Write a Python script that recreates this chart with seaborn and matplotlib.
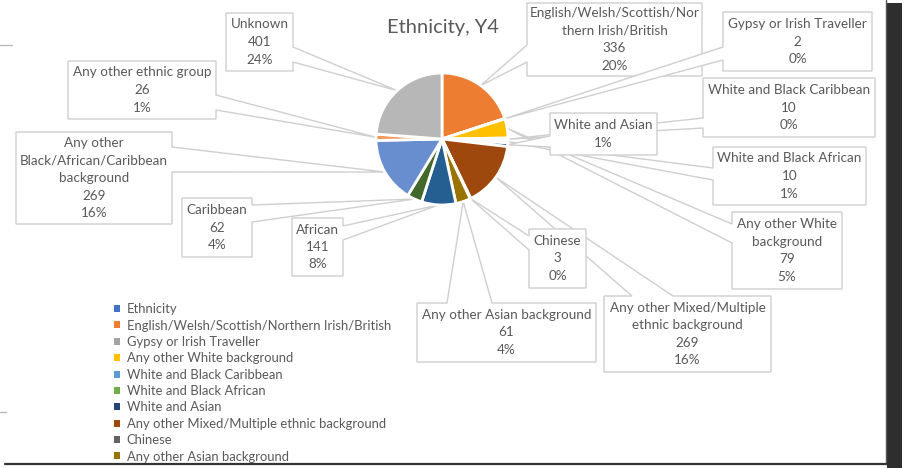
import matplotlib
matplotlib.use("Agg")
import numpy as np
import matplotlib.pyplot as plt
import seaborn as sns
from matplotlib.patches import Polygon, Patch, Rectangle
from matplotlib.lines import Line2D

# ---- data -------------------------------------------------------------
categories = [
    "English/Welsh/Scottish/Northern Irish/British",
    "Gypsy or Irish Traveller",
    "Any other White background",
    "White and Black Caribbean",
    "White and Black African",
    "White and Asian",
    "Any other Mixed/Multiple ethnic background",
    "Chinese",
    "Any other Asian background",
    "African",
    "Caribbean",
    "Any other Black/African/Caribbean background",
    "Any other ethnic group",
    "Unknown",
]
counts = [336, 2, 79, 10, 10, 15, 269, 3, 61, 141, 62, 269, 26, 401]
pct_labels = ["20%", "0%", "5%", "0%", "1%", "1%", "16%", "0%", "4%", "8%", "4%", "16%", "1%", "24%"]
# text shown in each callout (category name as wrapped on the chart)
callout_names = [
    "English/Welsh/Scottish/Nor\nthern Irish/British",
    "Gypsy or Irish Traveller",
    "Any other White\nbackground",
    "White and Black Caribbean",
    "White and Black African",
    "White and Asian",
    "Any other Mixed/Multiple\nethnic background",
    "Chinese",
    "Any other Asian background",
    "African",
    "Caribbean",
    "Any other\nBlack/African/Caribbean\nbackground",
    "Any other ethnic group",
    "Unknown",
]
show_value = [True, True, True, True, True, False, True, True, True, True, True, True, True, True]
series_name = "Ethnicity"
title = "Ethnicity, Y4"

colors = ["#ED7D31", "#A5A5A5", "#FFC000", "#5B9BD5", "#70AD47", "#264478",
          "#9E480E", "#636363", "#997300", "#255E91", "#43682B", "#698ED0",
          "#F1975A", "#B7B7B7"]
series_color = "#4472C4"

# ---- layout (pixel space, origin top-left) ----------------------------
W, H = 907, 468
CX, CY, R = 442, 139, 66

# callout boxes: (x0, y0, x1, y1), side the pointer leaves from, pointer base span
boxes = [
    ((527, 3, 702, 76), "left", (45, 62)),
    ((723, 12, 872, 71), "left", (47, 60)),
    ((732, 212, 842, 289), "left", (224, 243)),
    ((703, 78, 875, 137), "left", (118, 128)),
    ((713, 147, 866, 205), "left", (168, 180)),
    ((550, 113, 657, 155), "left", (136, 147)),
    ((604, 296, 771, 372), "top", (632, 673)),
    ((529, 229, 586, 288), "left", (236, 250)),
    ((417, 303, 596, 362), "top", (447, 492)),
    ((292, 218, 343, 276), "right", (226, 240)),
    ((182, 198, 252, 257), "right", (205, 222)),
    ((16, 132, 172, 224), "right", (147, 172)),
    ((68, 61, 216, 119), "right", (95, 110)),
    ((226, 13, 293, 71), "right", (47, 62)),
]

FONT = ["Lato", "DejaVu Sans"]
TXT = "#595959"
LINE = "#CFCFCF"

sns.set_theme(style="white")
plt.rcParams["font.family"] = FONT

fig = plt.figure(figsize=(W / 100, H / 100), dpi=100)
ax = fig.add_axes([0, 0, 1, 1])


def fy(y):
    return H - y


wedges, _ = ax.pie(counts, colors=colors, startangle=90, counterclock=False,
                   center=(CX, fy(CY)), radius=R,
                   wedgeprops=dict(edgecolor="white", linewidth=2))
for w in wedges:
    w.set_zorder(3)

# pixel-like data space for the whole canvas
ax.set_xlim(0, W)
ax.set_ylim(0, H)
ax.set_aspect("equal")
ax.axis("off")

# callouts with a wedge pointer ending on the slice edge
for i, w in enumerate(wedges):
    mid = np.deg2rad((w.theta1 + w.theta2) / 2)
    tip = (CX + R * np.cos(mid), fy(CY) + R * np.sin(mid))
    (x0, y0, x1, y1), side, (b1, b2) = boxes[i]
    X0, X1, Y0, Y1 = x0, x1, fy(y0), fy(y1)
    if side == "left":
        pts = [(X0, Y0), (X1, Y0), (X1, Y1), (X0, Y1), (X0, fy(b2)), tip, (X0, fy(b1))]
    elif side == "right":
        pts = [(X0, Y0), (X1, Y0), (X1, fy(b1)), tip, (X1, fy(b2)), (X1, Y1), (X0, Y1)]
    else:  # top
        pts = [(X0, Y0), (b1, Y0), tip, (b2, Y0), (X1, Y0), (X1, Y1), (X0, Y1)]
    ax.add_patch(Polygon(pts, closed=True, facecolor="white", edgecolor=LINE,
                         linewidth=1.0, zorder=2))
    lines = [callout_names[i]]
    if show_value[i]:
        lines.append(f"{counts[i]}")
    lines.append(pct_labels[i])
    ax.text((x0 + x1) / 2, fy((y0 + y1) / 2), "\n".join(lines), ha="center",
            va="center", fontsize=9.7, color=TXT, linespacing=1.55, zorder=4)

ax.text(443, fy(27), title, ha="center", va="center", fontsize=14.5, color=TXT)

# legend (first entries visible in the chart area)
handles = [Patch(facecolor=series_color, edgecolor="none")]
handles += [Patch(facecolor=c, edgecolor="none") for c in colors[:9]]
labels = [series_name] + categories[:9]
leg = ax.legend(handles, labels, loc="upper left",
                bbox_to_anchor=(109 / W, 1 - 298 / H), frameon=False,
                fontsize=9.4, labelcolor=TXT, handlelength=0.45, handleheight=0.45,
                handletextpad=0.5, labelspacing=0.335, borderaxespad=0)

# window frame around the chart
fig.add_artist(Rectangle((887 / W, 0), 15 / W, 465 / H, transform=fig.transFigure,
                         facecolor="#2E2E2E", edgecolor="none"))
fig.add_artist(Line2D([886 / W, 886 / W], [1 - 463 / H, 1], transform=fig.transFigure,
                      color="#555555", linewidth=1))
fig.add_artist(Line2D([5 / W, 887 / W], [1 - 464 / H, 1 - 464 / H],
                      transform=fig.transFigure, color="#333333", linewidth=1.6))
fig.add_artist(Line2D([0, 12 / W], [1 - 45 / H, 1 - 45 / H],
                      transform=fig.transFigure, color="#BBBBBB", linewidth=1))
fig.add_artist(Line2D([0, 6 / W], [1 - 412 / H, 1 - 412 / H],
                      transform=fig.transFigure, color="#BBBBBB", linewidth=1))

fig.savefig("out.png", dpi=100)
